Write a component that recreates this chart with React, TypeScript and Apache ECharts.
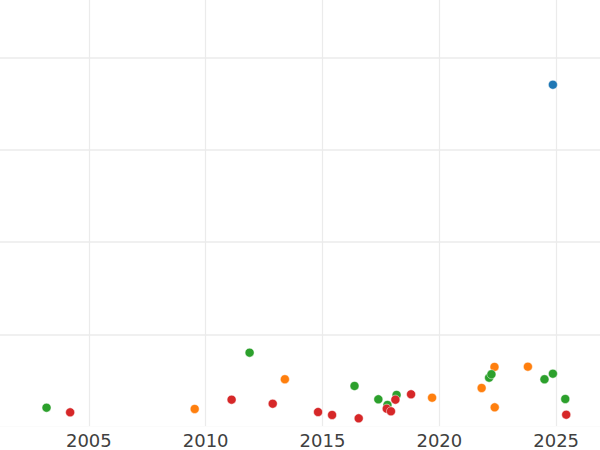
import React, { useEffect, useRef } from "react";
import * as echarts from "echarts";

// x tick labels shown in the reference (value axis, every 5 years)
const xTickYears = [2005, 2010, 2015, 2020, 2025];

// Series data: [year, value]
const blueSeries: [number, number][] = [[2024.86, 370.4]];

const orangeSeries: [number, number][] = [
  [2009.53, 19.4],
  [2013.39, 51.6],
  [2019.69, 31.6],
  [2021.81, 42.1],
  [2022.36, 64.9],
  [2022.37, 21.2],
  [2023.79, 65.2],
];

const greenSeries: [number, number][] = [
  [2003.19, 20.8],
  [2011.88, 80.4],
  [2016.37, 44.3],
  [2017.39, 29.9],
  [2017.78, 23.7],
  [2018.17, 34.6],
  [2022.13, 53.3],
  [2022.23, 57.0],
  [2024.5, 51.6],
  [2024.86, 57.6],
  [2025.39, 30.2],
];

const redSeries: [number, number][] = [
  [2004.2, 15.8],
  [2011.11, 29.5],
  [2012.87, 25.1],
  [2014.81, 16.1],
  [2015.41, 12.9],
  [2016.55, 9.3],
  [2017.75, 19.7],
  [2017.93, 16.9],
  [2018.12, 29.5],
  [2018.79, 35.3],
  [2025.43, 13.2],
];

const seriesNames = ["blue", "orange", "green", "red"];
const seriesColors = ["#1f77b4", "#ff7f0e", "#2ca02c", "#d62728"];

export default function App() {
  const ref = useRef<HTMLDivElement>(null);

  useEffect(() => {
    if (!ref.current) return;
    const chart = echarts.init(ref.current, undefined, { renderer: "svg" });
    const allData = [blueSeries, orangeSeries, greenSeries, redSeries];
    chart.setOption({
      animation: false,
      backgroundColor: "#ffffff",
      grid: {
        left: 0,
        right: 0,
        top: 0,
        bottom: 23.1,
        containLabel: false,
        outerBoundsMode: "none",
      },
      xAxis: {
        type: "value",
        min: 2000,
        max: 2030,
        interval: 5,
        z: 3,
        axisLine: { show: true, lineStyle: { color: "#ffffff", width: 2.5 } },
        axisTick: { show: false },
        axisLabel: {
          show: true,
          color: "#404040",
          fontFamily: "DejaVu Sans",
          fontSize: 18,
          lineHeight: 16,
          margin: 5.4,
          formatter: (v: number) =>
            xTickYears.includes(v) ? String(v) : "",
        },
        splitLine: {
          show: true,
          lineStyle: { color: "#ebebeb", width: 1.2 },
        },
      },
      yAxis: {
        type: "value",
        min: 0,
        max: 500,
        interval: 100,
        z: 1,
        axisLine: { show: false },
        axisTick: { show: false },
        axisLabel: { show: false },
        splitLine: {
          show: true,
          lineStyle: { color: "#ebebeb", width: 1.6 },
        },
      },
      series: allData.map((d, i) => ({
        name: seriesNames[i],
        type: "scatter",
        data: d,
        symbol: "circle",
        symbolSize: 9,
        itemStyle: {
          color: seriesColors[i],
          opacity: 1,
          borderColor: "#ffffff",
          borderWidth: 0.5,
        },
        z: 5 + i,
      })),
    });
    return () => chart.dispose();
  }, []);

  return (
    <div
      ref={ref}
      style={{
        position: "fixed",
        left: -28.45,
        top: -34.6,
        width: 700.5,
        height: 484.6,
      }}
    />
  );
}
